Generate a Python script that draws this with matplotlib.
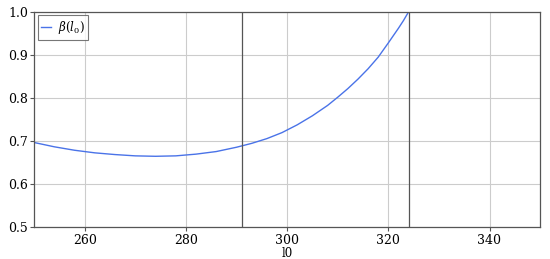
import matplotlib
matplotlib.use("Agg")
import matplotlib.pyplot as plt

# values
l0 = [250, 254, 258, 262, 266, 270, 274, 278, 282, 286, 290, 293, 296, 299,
      302, 305, 308, 310, 312, 314, 316, 318, 320, 322, 323, 324]
beta = [0.697, 0.687, 0.679, 0.673, 0.669, 0.666, 0.665, 0.666, 0.670, 0.676,
        0.686, 0.695, 0.706, 0.720, 0.738, 0.759, 0.783, 0.802, 0.822, 0.844,
        0.868, 0.895, 0.928, 0.962, 0.980, 1.000]
vlines = [291, 324]
xticks = [260, 280, 300, 320, 340]
yticks = [0.5, 0.6, 0.7, 0.8, 0.9, 1.0]

plt.rcParams['font.family'] = ['DejaVu Serif']
plt.rcParams['mathtext.fontset'] = 'dejavuserif'

fig = plt.figure(figsize=(5.5, 2.59), dpi=100)
ax = fig.add_axes([0.062, 0.122, 0.92, 0.832])

ax.plot(l0, beta, color='#4a73e8', lw=1.0, label=r'$\beta(l_0)$')
for v in vlines:
    ax.axvline(v, color='#555555', lw=0.9)

ax.set_xlim(250, 350)
ax.set_ylim(0.5, 1.0)
ax.set_xticks(xticks)
ax.set_yticks(yticks)
ax.grid(True, color='#cccccc', lw=0.8)
ax.set_axisbelow(True)
for s in ax.spines.values():
    s.set_color('#555555')
    s.set_linewidth(0.9)
ax.tick_params(labelsize=9, length=3, color='#555555', pad=1.5)
ax.set_xlabel('l0', fontsize=8.5, labelpad=0)

leg = ax.legend(loc='upper left', fontsize=8.5, fancybox=False, edgecolor='#555555',
                handlelength=0.8, handletextpad=0.6, borderpad=0.3,
                borderaxespad=0.3)
leg.get_frame().set_linewidth(0.8)

fig.savefig('out.png', dpi=100)
